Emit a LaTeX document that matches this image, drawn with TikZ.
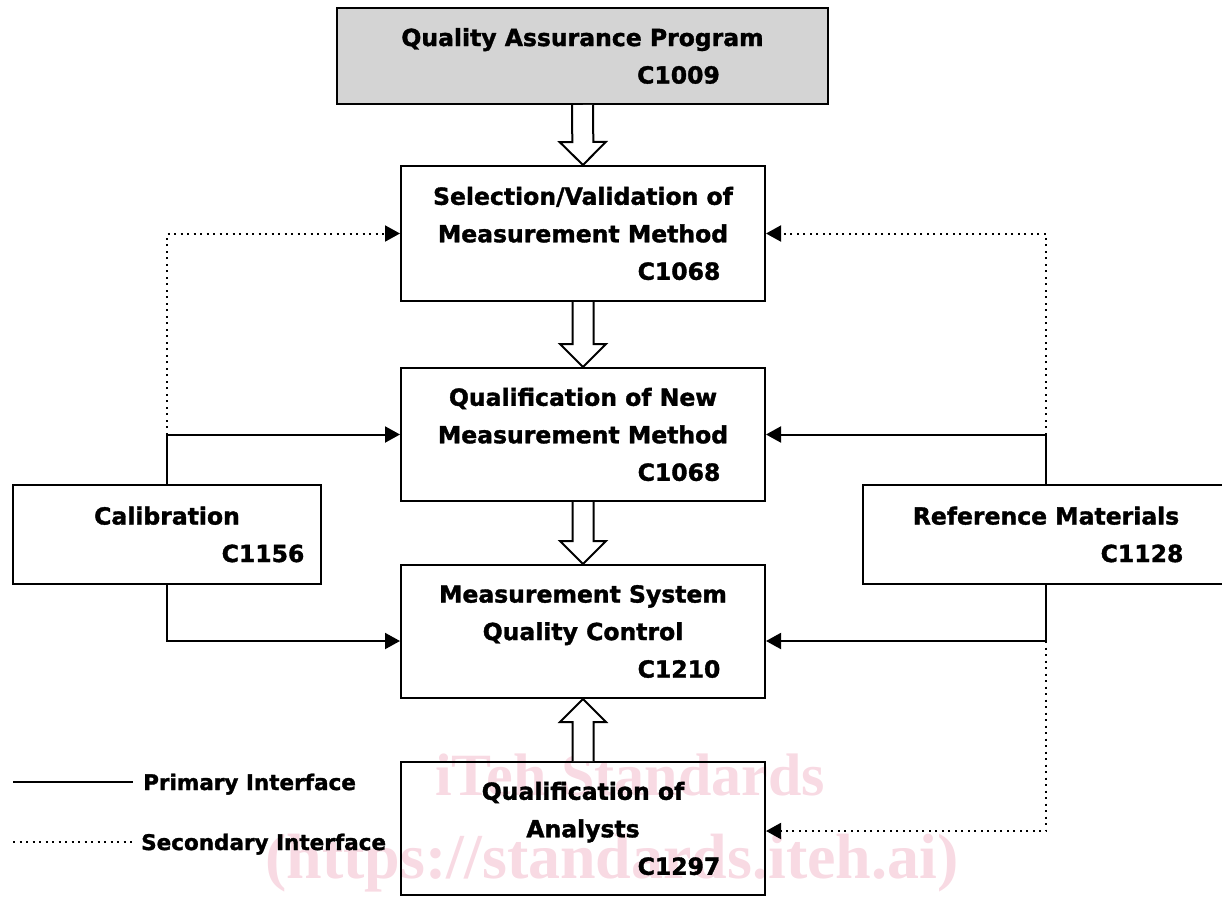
\documentclass[tikz,border=0pt]{standalone}
\usepackage{fontspec}
\setmainfont{DejaVu Sans}[BoldFeatures={FakeBold=1.5}]
\newfontfamily\wmfont{Liberation Serif}
\usetikzlibrary{arrows.meta,calc}
\definecolor{qagray}{RGB}{212,212,212}
\definecolor{wmpink}{RGB}{248,218,227}
\newcommand{\code}[1]{\hspace*{192pt}#1}

\begin{document}
\begin{tikzpicture}[x=1pt,y=-1pt,>={Triangle[length=15pt,width=16pt]},
        font=\fontsize{23.5}{37.5}\selectfont\bfseries,
        box/.style={draw,line width=2pt,align=center,inner sep=0pt,
            minimum width=364pt,minimum height=133pt,
            execute at begin node={\rule{0pt}{22pt}}},
        primary/.style={line width=2pt},
        secondary/.style={line width=2pt,dash pattern=on 2pt off 4.5pt},
        blockarr/.style={draw,line width=2pt,fill=white,line join=miter}]
    \def\blockarrow(#1,#2){%
        \coordinate (ba) at ($(#2)!23pt!(#1)$);
        \draw[blockarr] ($(#1)!10.5pt!90:(#2)$) -- ($(ba)!10.5pt!90:(#2)$)
            -- ($(ba)!23pt!90:(#2)$) -- (#2) -- ($(ba)!23pt!-90:(#2)$)
            -- ($(ba)!10.5pt!-90:(#2)$) -- ($(#1)!10.5pt!-90:(#2)$);}
    \useasboundingbox (0,0) rectangle (1222,897);
    \node[text=wmpink,font=\wmfont\bfseries\fontsize{60}{60}\selectfont,anchor=base] (wm1) at (630,795) {iTeh Standards};
    \node[text=wmpink,font=\wmfont\bfseries\fontsize{64}{64}\selectfont,anchor=base] (wm2) at (612,878) {(https://standards.iteh.ai)};
    %===========================================
    \node[box,fill=qagray,minimum width=491pt,minimum height=96pt] (qap) at (582.5,56) {Quality Assurance Program\\\code{C1009}};
    \node[box,minimum height=135pt] (sel) at (583,233.5) {Selection/Validation of\\Measurement Method\\\code{C1068}};
    \node[box] (qnm) at (583,434.5) {Qualification of New\\Measurement Method\\\code{C1068}};
    \node[box] (msqc) at (583,631.5) {Measurement System\\Quality Control\\\code{C1210}};
    \node[box] (ana) at (583,828.5) {Qualification of\\Analysts\\\code{C1297}};
    \node[box,minimum width=308pt,minimum height=99pt] (cal) at (167,534.5) {Calibration\\\code{C1156}};
    \node[box,minimum width=366pt,minimum height=99pt] (refm) at (1046,534.5) {Reference Materials\\\code{C1128}};
    %===========================================
    \blockarrow(qap.south,sel.north)
    \blockarrow(sel.south,qnm.north)
    \blockarrow(qnm.south,msqc.north)
    \blockarrow(ana.north,msqc.south)
    %===========================================
    \coordinate (calup) at (cal.north |- qnm.west);
    \coordinate (refup) at (refm.north |- qnm.east);
    \coordinate (msqcl) at ([yshift=-9.5pt]msqc.west);
    \coordinate (msqcr) at ([yshift=-9.5pt]msqc.east);
    \coordinate (refdown) at (refm.south |- msqcr);
    \draw[primary,->] (cal.north) |- (qnm.west);
    \draw[secondary,->] (calup) |- (sel.west);
    \draw[primary,->] (cal.south) |- (msqcl);
    \draw[primary,->] (refm.north) |- (qnm.east);
    \draw[secondary,->] (refup) |- (sel.east);
    \draw[primary,->] (refm.south) |- (msqcr);
    \draw[secondary,->] (refdown) |- ([yshift=-2.5pt]ana.east);
    %===========================================
    \coordinate (lpa) at (13,782); \coordinate (lpb) at (133,782);
    \coordinate (lsa) at (13,842); \coordinate (lsb) at (133,842);
    \draw[primary] (lpa) -- (lpb);
    \draw[secondary] (lsa) -- (lsb);
    \node[anchor=base west,inner sep=0pt,font=\fontsize{21.5}{26}\selectfont\bfseries] (lprim) at (143,790) {Primary Interface};
    \node[anchor=base west,inner sep=0pt,font=\fontsize{21.5}{26}\selectfont\bfseries] (lsec) at (141,850) {Secondary Interface};
\end{tikzpicture}
\end{document}
